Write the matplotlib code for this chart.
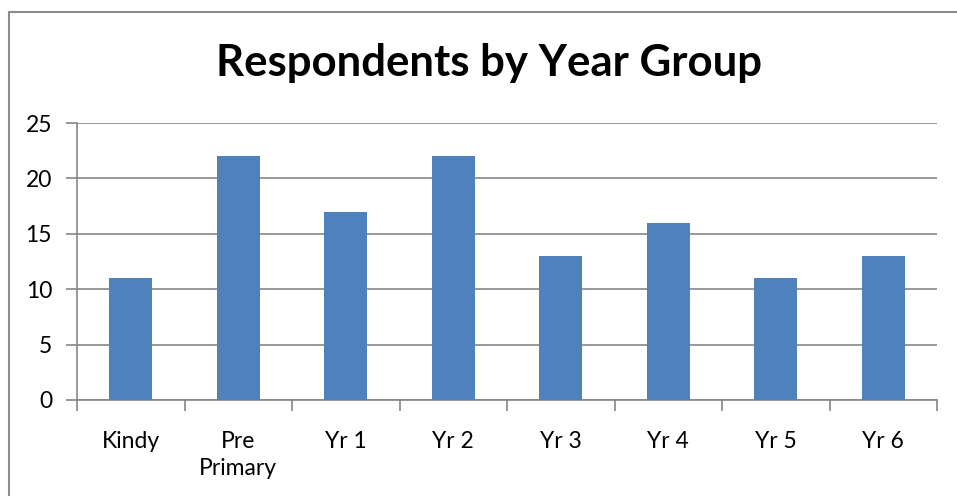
import matplotlib
matplotlib.use("Agg")
import matplotlib.pyplot as plt
from matplotlib.patches import Rectangle

categories = ["Kindy", "Pre\nPrimary", "Yr 1", "Yr 2", "Yr 3", "Yr 4", "Yr 5", "Yr 6"]
respondents = [11, 22, 17, 22, 13, 16, 11, 13]
yticks = [0, 5, 10, 15, 20, 25]

plt.rcParams["font.family"] = ["Lato", "DejaVu Sans"]

W, H = 957, 496
fig = plt.figure(figsize=(W / 100, H / 100), dpi=100)
# chart frame (left/top visible, right/bottom run off the image)
fig.patches.append(Rectangle((8.5 / W, -0.1), 1.2, 1 - 11.5 / H + 0.1,
                             transform=fig.transFigure, fill=False,
                             edgecolor="#8c8c8c", linewidth=1.5))

ax = fig.add_axes([77 / W, 1 - 400 / H, (937 - 77) / W, (400 - 123) / H])
x = range(len(categories))
ax.bar(x, respondents, width=0.4, color="#4f81bd", zorder=3)
ax.set_xlim(-0.5, len(categories) - 0.5)
ax.set_ylim(0, 25)
ax.set_yticks(yticks)
ax.set_xticks(list(x))
ax.set_xticklabels(categories, fontsize=16.5, linespacing=1.35, va="top")
ax.tick_params(axis="y", labelsize=16.5, length=8, color="#868686", width=1.2, pad=10)
ax.tick_params(axis="x", length=0, pad=22)
# category boundary ticks
ax.set_xticks([i - 0.5 for i in range(len(categories) + 1)], minor=True)
ax.tick_params(axis="x", which="minor", length=8, color="#868686", width=1.2, direction="out")
ax.grid(True, axis="y", color="#868686", linewidth=1.2, zorder=0)
for s in ["top", "right"]:
    ax.spines[s].set_visible(False)
ax.spines["left"].set_color("#868686")
ax.spines["bottom"].set_color("#868686")
ax.spines["left"].set_linewidth(1.2)
ax.spines["bottom"].set_linewidth(1.2)

fig.text(489 / W, 1 - 63 / H, "Respondents by Year Group", fontsize=31.5,
         fontweight="bold", ha="center", va="center")

fig.savefig("out.png", dpi=100)
